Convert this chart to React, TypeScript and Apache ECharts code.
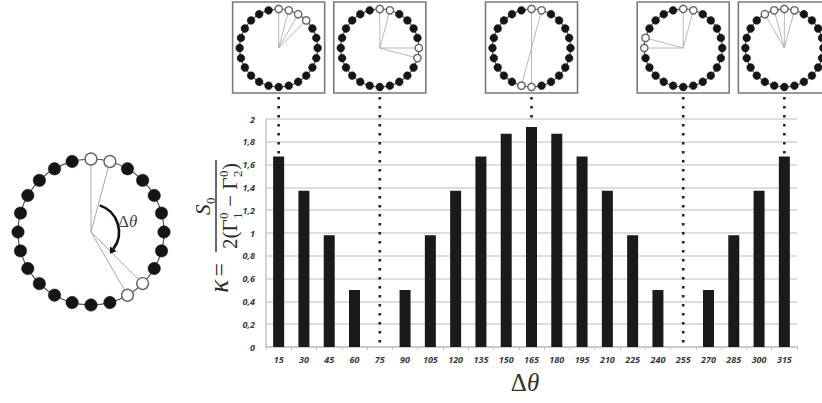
import React, { useEffect, useRef } from 'react';
import * as echarts from 'echarts';

const angles = ['15', '30', '45', '60', '75', '90', '105', '120', '135', '150', '165', '180', '195', '210', '225', '240', '255', '270', '285', '300', '315'];
const kappa = [1.67, 1.37, 0.98, 0.5, 0, 0.5, 0.98, 1.37, 1.67, 1.87, 1.93, 1.87, 1.67, 1.37, 0.98, 0.5, 0, 0.5, 0.98, 1.37, 1.67];
const yTickLabels = ['0', '0,2', '0,4', '0,6', '0,8', '1', '1,2', '1,4', '1,6', '1,8', '2'];
const insetAngles = ['15', '75', '165', '255', '315'];
const insetOpenSites = [[0, 1, 2, 3], [0, 1, 6, 7], [0, 1, 12, 13], [0, 1, 18, 19], [22, 23, 0, 1]];
const mainOpenSites = [0, 1, 9, 10];
const SITES = 24;

const SERIF = '"Liberation Serif", "DejaVu Serif", serif';
const TITLE_COLOR = '#2a2a2a';

let measureCtx: CanvasRenderingContext2D | null = null;
function textWidth(t: string, size: number, italic: boolean) {
  if (!measureCtx) measureCtx = document.createElement('canvas').getContext('2d');
  if (!measureCtx) return t.length * size * 0.5;
  measureCtx.font = `${italic ? 'italic ' : ''}${size}px ${SERIF}`;
  return measureCtx.measureText(t).width;
}

function sitePos(cx: number, cy: number, r: number, k: number) {
  const a = (k * 2 * Math.PI) / SITES;
  return [cx + r * Math.sin(a), cy - r * Math.cos(a)];
}

function ringChildren(cx: number, cy: number, r: number, dotR: number, open: number[], lineColor: string, lineW: number) {
  const ch: any[] = [];
  ch.push({ type: 'circle', shape: { cx, cy, r }, style: { fill: 'none', stroke: '#555', lineWidth: 1.2 } });
  open.forEach((k) => {
    const [x, y] = sitePos(cx, cy, r, k);
    ch.push({ type: 'line', shape: { x1: cx, y1: cy, x2: x, y2: y }, style: { stroke: lineColor, lineWidth: lineW } });
  });
  for (let k = 0; k < SITES; k++) {
    const [x, y] = sitePos(cx, cy, r, k);
    const isOpen = open.indexOf(k) >= 0;
    ch.push({
      type: 'circle',
      shape: { cx: x, cy: y, r: isOpen ? dotR * 0.95 : dotR },
      style: isOpen ? { fill: '#fff', stroke: '#666', lineWidth: 1.4 } : { fill: '#151515', stroke: '#151515', lineWidth: 0.5 },
    });
  }
  return ch;
}

function buildLeftDiagram() {
  const cx = 91, cy = 232, r = 73;
  const ch = ringChildren(cx, cy, r, 6.2, mainOpenSites, '#a8a8a8', 1);
  const ar = 28;
  const s = (18 * Math.PI) / 180, e = (127 * Math.PI) / 180;
  ch.push({
    type: 'arc',
    shape: { cx, cy, r: ar, startAngle: s - Math.PI / 2, endAngle: e - Math.PI / 2, clockwise: true },
    style: { stroke: '#111', lineWidth: 2.6, fill: 'none' },
  });
  const ex = cx + ar * Math.sin(e), ey = cy - ar * Math.cos(e);
  const tx = Math.cos(e), ty = Math.sin(e);
  const px = -ty, py = tx;
  ch.push({
    type: 'polygon',
    shape: { points: [[ex + tx * 6, ey + ty * 6], [ex + px * 4, ey + py * 4], [ex - px * 4, ey - py * 4]] },
    style: { fill: '#111' },
  });
  ch.push({
    type: 'text', x: 118, y: 221,
    style: {
      text: '{a|Δ}{b|θ}', verticalAlign: 'middle', align: 'left',
      rich: {
        a: { fontFamily: SERIF, fontSize: 17, fill: '#444' },
        b: { fontFamily: SERIF, fontSize: 17, fontStyle: 'italic', fill: '#444' },
      },
    },
  });
  return ch;
}

type Piece = { t: string; italic?: boolean } | { sup?: string; sub?: string };

function layoutFormula(pieces: Piece[], size: number, subSize: number, cyMid: number) {
  const items: any[] = [];
  const widths = pieces.map((p: any) => {
    if (p.t !== undefined) return textWidth(p.t, size, !!p.italic);
    return Math.max(textWidth(p.sup || '', subSize, false), textWidth(p.sub || '', subSize, false)) + 1;
  });
  const total = widths.reduce((a, b) => a + b, 0);
  let x = -total / 2;
  pieces.forEach((p: any, i) => {
    if (p.t !== undefined) {
      items.push({
        type: 'text', x, y: cyMid,
        style: { text: p.t, fontFamily: SERIF, fontSize: size, fontStyle: p.italic ? 'italic' : 'normal', fill: TITLE_COLOR, align: 'left', verticalAlign: 'middle' },
      });
    } else {
      if (p.sup) items.push({
        type: 'text', x: x + 0.5, y: cyMid - size * 0.32,
        style: { text: p.sup, fontFamily: SERIF, fontSize: subSize, fill: TITLE_COLOR, align: 'left', verticalAlign: 'middle' },
      });
      if (p.sub) items.push({
        type: 'text', x: x + 0.5, y: cyMid + size * 0.36,
        style: { text: p.sub, fontFamily: SERIF, fontSize: subSize, fill: TITLE_COLOR, align: 'left', verticalAlign: 'middle' },
      });
    }
    x += widths[i];
  });
  return { items, total };
}

function buildYTitle() {
  const den = layoutFormula(
    [{ t: '2(' }, { t: 'Γ' }, { sup: '0', sub: '1' }, { t: ' − ' }, { t: 'Γ' }, { sup: '0', sub: '2' }, { t: ')' }],
    21, 13, 14,
  );
  const num = layoutFormula([{ t: 'S', italic: true }, { sub: '0' }], 21, 13, -13);
  const half = Math.max(den.total / 2 + 2, 46);
  return {
    type: 'group', x: 216, y: 206, rotation: Math.PI / 2,
    children: [
      { type: 'line', shape: { x1: -half, y1: 0, x2: half, y2: 0 }, style: { stroke: TITLE_COLOR, lineWidth: 1.4 } },
      ...num.items,
      ...den.items,
      {
        type: 'text', x: -57, y: 3,
        style: {
          text: '{k|κ} {e|=}', align: 'right', verticalAlign: 'middle',
          rich: {
            k: { fontFamily: SERIF, fontSize: 27, fontStyle: 'italic', fill: TITLE_COLOR },
            e: { fontFamily: SERIF, fontSize: 24, fill: TITLE_COLOR },
          },
        },
      },
    ],
  };
}

export default function App() {
  const ref = useRef<HTMLDivElement>(null);
  useEffect(() => {
    if (!ref.current) return;
    const chart = echarts.init(ref.current, null, { renderer: 'svg' });
    const insetData = insetAngles.map((a) => [angles.indexOf(a), 0]);
    const dotData = insetAngles.map((a) => {
      const i = angles.indexOf(a);
      return [i, kappa[i]];
    });
    chart.setOption({
      animation: false,
      backgroundColor: '#fff',
      grid: { left: 266, right: 25, top: 119, bottom: 56, outerBoundsMode: 'none' },
      xAxis: {
        type: 'category',
        data: angles,
        axisLine: { show: true, lineStyle: { color: '#c4c4c4', width: 1.5 } },
        axisTick: { show: true, length: 3, lineStyle: { color: '#c4c4c4' } },
        axisLabel: { fontSize: 9, fontStyle: 'italic', fontWeight: 'bold', color: '#3a3a3a', margin: 8, fontFamily: '"Open Sans", sans-serif', interval: 0 },
      },
      yAxis: {
        type: 'value', min: 0, max: 2, interval: 0.2,
        axisLine: { show: true, lineStyle: { color: '#c4c4c4', width: 1.5 } },
        axisTick: { show: false },
        splitLine: { lineStyle: { color: '#d2d2d2', width: 1.5 } },
        axisLabel: {
          fontSize: 9, fontStyle: 'italic', fontWeight: 'bold', color: '#3a3a3a', margin: 11, fontFamily: '"Open Sans", sans-serif',
          formatter: (v: number) => yTickLabels[Math.round(v / 0.2)] ?? '',
        },
      },
      series: [
        {
          type: 'bar', data: kappa, barWidth: 11, itemStyle: { color: '#1a1a1a' }, silent: true,
        },
        {
          type: 'custom', coordinateSystem: 'cartesian2d', clip: false, silent: true, z: 5,
          data: dotData,
          renderItem: (params: any, api: any) => {
            const p = api.coord([api.value(0), api.value(1)]);
            return {
              type: 'line',
              shape: { x1: p[0], y1: 97, x2: p[0], y2: p[1] - 3 },
              style: { stroke: '#222', lineWidth: 2.6, lineDash: [2.5, 6.5] },
            };
          },
        },
        {
          type: 'custom', coordinateSystem: 'cartesian2d', clip: false, silent: true, z: 6,
          data: insetData,
          renderItem: (params: any, api: any) => {
            const cx = api.coord([api.value(0), 0])[0];
            const cy = 48;
            const children: any[] = [
              { type: 'rect', shape: { x: cx - 46, y: 2, width: 92, height: 91 }, style: { fill: '#fff', stroke: '#7a7a7a', lineWidth: 1.6 } },
            ];
            return {
              type: 'group',
              children: children.concat(ringChildren(cx, cy, 39, 3.9, insetOpenSites[params.dataIndex], '#b0b0b0', 0.9)),
            };
          },
        },
      ],
      graphic: [
        ...buildLeftDiagram(),
        buildYTitle(),
        {
          type: 'text', x: 525, y: 382,
          style: {
            text: '{a|Δ}{b|θ}', align: 'center', verticalAlign: 'middle',
            rich: {
              a: { fontFamily: SERIF, fontSize: 25, fill: '#333' },
              b: { fontFamily: SERIF, fontSize: 25, fontStyle: 'italic', fill: '#333' },
            },
          },
        },
      ],
    });
    return () => chart.dispose();
  }, []);
  return <div ref={ref} style={{ position: 'fixed', left: 0, top: 0, width: 822, height: 403, background: '#fff' }} />;
}
